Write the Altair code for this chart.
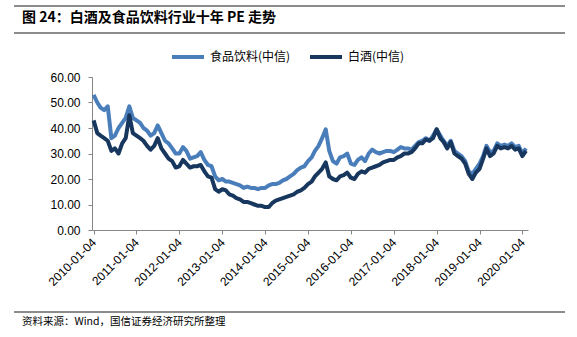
import altair as alt
import pandas as pd

# ---- data (monthly readings, starting 2010-01-04) ----
food_pe = [53, 50, 48, 47, 48.5, 36, 37, 40, 42, 44, 48.5, 44,
           43, 42, 40, 39, 37, 38, 41, 38, 35, 34, 32, 30,
           30, 32.5, 31, 28, 28.5, 29, 30.5, 27.5, 25.5, 25, 21, 19.5,
           20, 19, 19, 18.5, 18, 17.5, 16.5, 17, 16.5, 16.5, 16, 16.5,
           16.5, 17.5, 18, 18, 18.5, 19.5, 20, 21, 22, 23.5, 24.5, 25,
           27, 28.5, 31, 33, 36, 39.5, 31, 27, 26, 28.5, 29, 30,
           26, 25.5, 27.5, 28.5, 27, 30, 31.5, 30.5, 30, 30.5, 31, 31,
           30.5, 31.5, 32.5, 32, 32, 31.5, 33, 34.5, 35, 36, 35, 37,
           39.5, 37, 35, 33, 35, 31, 30, 29, 27, 23, 22, 24,
           26, 29, 33, 30.5, 31, 34, 33, 33.5, 33, 34, 32.5, 33,
           30, 32]
liquor_pe = [43, 38, 37, 36, 35, 31, 32, 30, 34, 36, 45, 38,
             37, 36, 35, 33, 31.5, 33, 36, 32, 30, 28, 27, 24.5,
             25, 27.5, 26, 24.5, 25, 25, 25.5, 23, 21, 20.5, 16, 15,
             16, 15.5, 14, 13.5, 12.5, 12, 11, 11, 10.5, 10, 9.5, 9.5,
             9, 9, 10.5, 11.5, 12, 12.5, 13, 13.5, 14, 15, 15.5, 16.5,
             18, 19, 21, 22.5, 24, 26.5, 21, 20, 19.5, 21, 21.5, 22.5,
             20.5, 20, 22, 23, 22.5, 24, 24.5, 25, 25.5, 26.5, 27, 27.5,
             27.5, 28.5, 29, 30, 30, 30.5, 32, 34, 34, 35.5, 35, 36,
             39.5, 36, 34.5, 32, 34.5, 30, 29, 28, 26, 22, 20, 22.5,
             24, 28, 32, 29, 30, 33, 32, 32.5, 32, 33, 31.5, 32,
             29, 31]
series_names = ["食品饮料(中信)", "白酒(中信)"]
series_colors = ["#4A7EBB", "#17375E"]
tick_years = list(range(2010, 2021))
y_ticks = [0, 10, 20, 30, 40, 50, 60]

dates = pd.date_range("2010-01-04", periods=len(food_pe), freq=pd.DateOffset(months=1))
df = pd.concat([
    pd.DataFrame({"date": dates.strftime("%Y-%m-%d"), "pe": food_pe, "series": series_names[0]}),
    pd.DataFrame({"date": dates.strftime("%Y-%m-%d"), "pe": liquor_pe, "series": series_names[1]}),
])

FONT = "Liberation Sans, Noto Sans CJK SC"
CJK = "Noto Sans CJK SC, Liberation Sans"

# plot area: x 92..528, y 77..230
PL, PT = 92, 77
W, H = 436, 153

lines = alt.Chart(df).mark_line(strokeWidth=4, strokeJoin="round").encode(
    x=alt.X("date:T",
            scale=alt.Scale(type="utc", domain=[alt.DateTime(year=2009, month=12, date=21, utc=True),
                                                alt.DateTime(year=2020, month=2, date=21, utc=True)]),
            axis=alt.Axis(values=[alt.DateTime(year=y, month=1, date=4, utc=True) for y in tick_years],
                          labelExpr="utcFormat(datum.value, '%Y-%m-%d')",
                          labelAngle=-45, labelAlign="right",
                          labelBaseline="middle", labelFont=FONT, labelFontSize=12, labelColor="#000000",
                          domainColor="#868686", tickColor="#868686", tickSize=4, labelPadding=6,
                          grid=False, title=None, labelOverlap=False, labelFlush=False)),
    y=alt.Y("pe:Q", scale=alt.Scale(domain=[0, 60], nice=False),
            axis=alt.Axis(values=y_ticks, format=".2f", labelFont=FONT, labelFontSize=12,
                          labelColor="#000000", domainColor="#868686", tickColor="#868686",
                          tickSize=4, labelPadding=8, grid=False, title=None)),
    color=alt.Color("series:N", scale=alt.Scale(domain=series_names, range=series_colors),
                    sort=series_names,
                    legend=alt.Legend(orient="none", legendX=78, legendY=-38, direction="horizontal",
                                      title=None, symbolType="stroke", symbolSize=1024,
                                      symbolStrokeWidth=4, labelFont=CJK, labelFontSize=12,
                                      labelColor="#000000", columnPadding=11, labelOffset=4,
                                      padding=0)),
)

title = alt.Chart(pd.DataFrame({"t": ["图 24：白酒及食品饮料行业十年 PE 走势"]})).mark_text(
    align="left", baseline="middle", font=CJK, fontSize=14, fontWeight="bold", color="#000000"
).encode(x=alt.value(22 - PL), y=alt.value(18 - PT), text="t")

footer = alt.Chart(pd.DataFrame({"t": ["资料来源：Wind，国信证券经济研究所整理"]})).mark_text(
    align="left", baseline="middle", font=CJK, fontSize=10.5, color="#000000"
).encode(x=alt.value(22 - PL), y=alt.value(322 - PT), text="t")

def hband(ytop, ybot, name):
    return alt.Chart(pd.DataFrame({"k": [name]})).mark_rect(color="#8C8C8C").encode(
        x=alt.value(14 - PL), x2=alt.value(565 - PL), y=alt.value(ytop - PT), y2=alt.value(ybot - PT)
    )

chart = alt.layer(hband(5, 7, "top"), hband(32, 34, "mid"), hband(311, 313, "bottom"),
                  title, footer, lines).properties(
    width=W, height=H,
    autosize=alt.AutoSizeParams(type="none"),
    padding={"left": PL, "top": PT, "right": 577 - PL - W, "bottom": 337 - PT - H},
    background="#FFFFFF",
).configure_view(stroke=None)

chart.save("out.html", embed_options={"renderer": "svg", "actions": False})
